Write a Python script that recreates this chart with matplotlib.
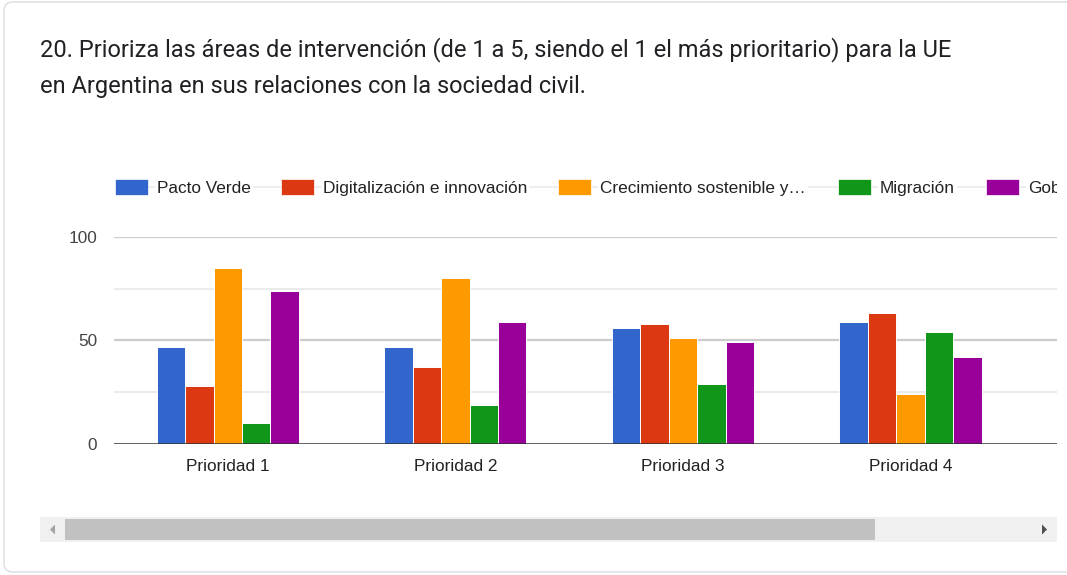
import matplotlib.pyplot as plt
from matplotlib.patches import Rectangle, FancyBboxPatch, Polygon
import numpy as np

# datos
categorias = ["Prioridad 1", "Prioridad 2", "Prioridad 3", "Prioridad 4"]
series = ["Pacto Verde", "Digitalización e innovación", "Crecimiento sostenible y…",
          "Migración", "Gobernanza"]
pacto_verde = [47, 47, 56, 59]
digitalizacion = [28, 37, 58, 63]
crecimiento = [85, 80, 51, 24]
migracion = [10, 19, 29, 54]
gobernanza = [74, 59, 49, 42]
valores = [pacto_verde, digitalizacion, crecimiento, migracion, gobernanza]
colores = ["#3366CC", "#DC3912", "#FF9900", "#109618", "#990099"]
yticks = [0, 50, 100]

W, H = 1067, 575
fig = plt.figure(figsize=(W / 100, H / 100), dpi=100)

# capa de fondo en pixeles (tarjeta, titulo, leyenda, scrollbar)
bg = fig.add_axes([0, 0, 1, 1])
bg.set_xlim(0, W)
bg.set_ylim(H, 0)
bg.axis("off")

card = FancyBboxPatch((4, 2), 1100, 570, boxstyle="round,pad=0,rounding_size=9",
                      facecolor="white", edgecolor="#dadce0", linewidth=1)
bg.add_patch(card)

titulo = ["20. Prioriza las áreas de intervención (de 1 a 5, siendo el 1 el más prioritario) para la UE",
          "en Argentina en sus relaciones con la sociedad civil."]
bg.text(40, 50, titulo[0], fontsize=17, family="Roboto", color="#202124", va="center")
bg.text(40, 86, titulo[1], fontsize=17, family="Roboto", color="#202124", va="center")

# leyenda (recortada a la derecha como en la captura)
clip = Rectangle((0, 0), 1057, H, transform=bg.transData, visible=False)
bg.add_patch(clip)
leg_x = [115, 281, 558, 838, 986]
leg_y = 187
bg.plot([115, 1057], [leg_y, leg_y], color="#ebebeb", lw=1.2, zorder=1)
for x, nombre, c in zip(leg_x, series, colores):
    r = Rectangle((x, leg_y - 8), 33, 16, facecolor=c, edgecolor="white", lw=0.5, zorder=3)
    bg.add_patch(r)
    r.set_clip_path(clip)
    t = bg.text(x + 42, leg_y + 1.5, nombre, fontsize=12.4, family="Liberation Sans",
                color="#222222", va="center", zorder=3, clip_on=True,
                bbox=dict(facecolor="white", edgecolor="none", pad=1.5))
    t.set_clip_path(clip)

# scrollbar
bg.add_patch(Rectangle((40, 517), 1017, 25, facecolor="#f0f0f0", edgecolor="none"))
bg.add_patch(Rectangle((65, 519), 810, 21, facecolor="#c1c1c1", edgecolor="none"))
bg.add_patch(Polygon([[55, 524.5], [55, 534.5], [50, 529.5]], closed=True,
                     facecolor="#a3a3a3", edgecolor="none"))
bg.add_patch(Polygon([[1042, 524.5], [1042, 534.5], [1047, 529.5]], closed=True,
                     facecolor="#505050", edgecolor="none"))

# grafico de barras
left, right, y0, y100 = 114, 1057, 444, 236.7
ax = fig.add_axes([left / W, 1 - y0 / H, (right - left) / W, (y0 - y100) / H])
ax.set_facecolor("none")

x = np.arange(len(categorias))
ancho = 0.125
for i, (vals, c) in enumerate(zip(valores, colores)):
    ax.bar(x + (i - 2) * ancho, vals, width=ancho, color=c, edgecolor="white",
           linewidth=0.7, zorder=3)

ax.set_xlim(-0.5, 3.644)
ax.set_ylim(0, 100)
for v in [25, 75]:
    ax.axhline(v, color="#ebebeb", lw=1.5, zorder=1)
for v in [50, 100]:
    ax.axhline(v, color="#cccccc", lw=1.6, zorder=1)
ax.axhline(0, color="#333333", lw=1.8, zorder=4)

ax.set_xticks(x)
ax.set_xticklabels(categorias, fontsize=12.4, family="Liberation Sans", color="#222222")
ax.set_yticks(yticks)
ax.set_yticklabels([str(v) for v in yticks], fontsize=12.4, family="Liberation Sans",
                   color="#444444")
ax.tick_params(axis="both", length=0)
ax.tick_params(axis="x", pad=11)
ax.tick_params(axis="y", pad=12)
for s in ax.spines.values():
    s.set_visible(False)
for lbl in ax.get_yticklabels():
    lbl.set_clip_on(False)

fig.savefig("out.png", dpi=100)
